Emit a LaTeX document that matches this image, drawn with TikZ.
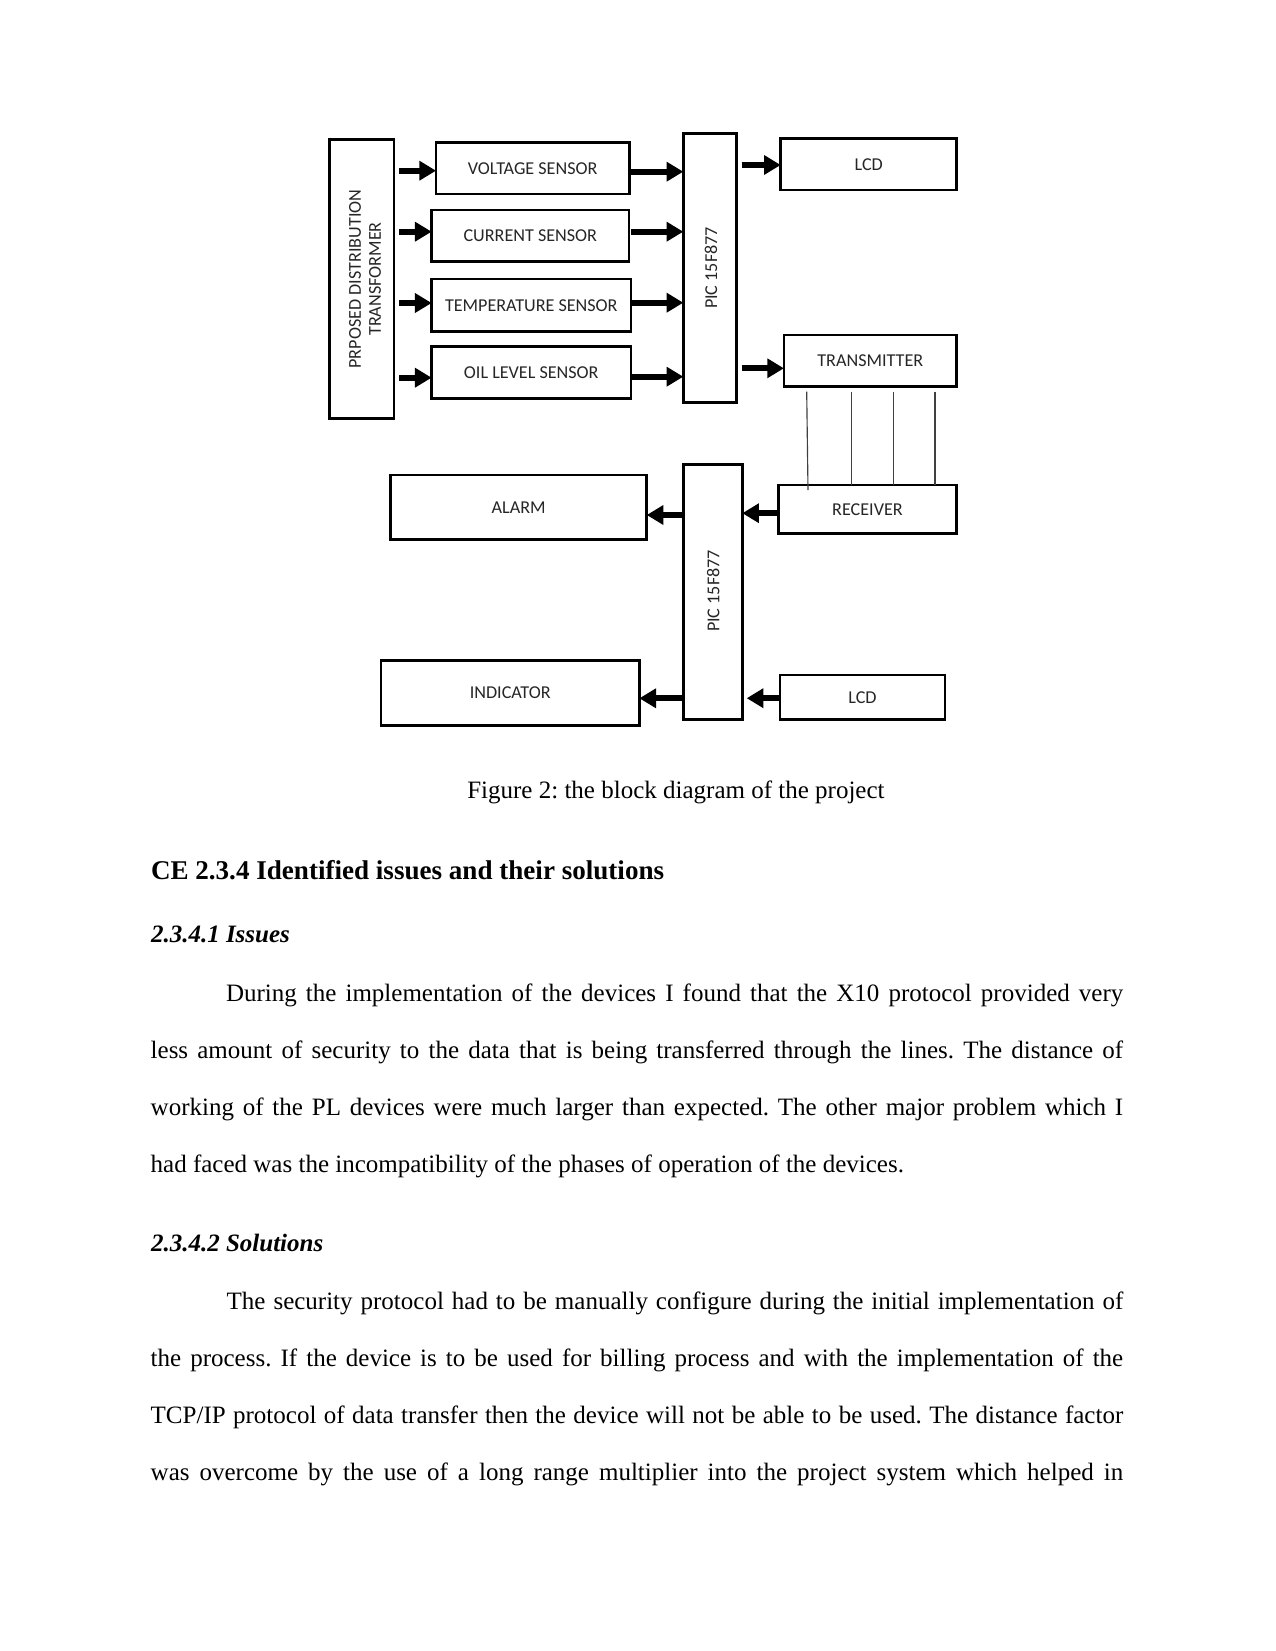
\documentclass[tikz,border=0pt]{standalone}
\usepackage{fontspec}
\setmainfont{Liberation Serif}
\newfontfamily\diagfont{Carlito}
\usetikzlibrary{arrows.meta,calc}
\newcommand\myjust[2]{\makebox[#1][s]{#2}}
\frenchspacing
\begin{document}
\begin{tikzpicture}[x=0.48pt,y=-0.48pt,
  blk/.style={draw, line width=1.3pt, inner sep=0pt, outer sep=0pt,
    font=\diagfont\fontsize{8.7}{9.6}\selectfont, text=black!85},
  lbl/.style={inner sep=0pt, outer sep=0pt, rotate=90, align=center,
    font=\diagfont\fontsize{8.7}{9.6}\selectfont, text=black!85},
  arr/.style={line width=2.8pt, -{Triangle[length=8pt,width=9pt]}},
  wire/.style={line width=0.55pt, draw=black!75},
  body/.style={anchor=base west, inner sep=0pt, outer sep=0pt,
    font=\fontsize{12}{14}\selectfont}]
\useasboundingbox[fill=white] (0,0) rectangle (1275,1651);

% ---------- upper part ----------
\node[blk, minimum width=64.7*0.48pt, minimum height=279*0.48pt] (T) at (361.7,278.8) {};
\node[lbl] (Tt) at (365,279) {PRPOSED DISTRIBUTION\\TRANSFORMER};

\node[blk, minimum width=193.3*0.48pt, minimum height=51.3*0.48pt] (V) at (532.7,168.3) {VOLTAGE SENSOR};
\node[blk, minimum width=197.3*0.48pt, minimum height=51.7*0.48pt] (C) at (530.3,235.8) {CURRENT SENSOR};
\node[blk, minimum width=199.3*0.48pt, minimum height=52.7*0.48pt] (Tm) at (531.3,305.3) {TEMPERATURE SENSOR};
\node[blk, minimum width=199.3*0.48pt, minimum height=51.6*0.48pt] (O) at (531.3,372.5) {OIL LEVEL SENSOR};

\node[blk, minimum width=53.4*0.48pt, minimum height=269.4*0.48pt] (P1) at (710,268) {};
\node[lbl] (P1t) at (711,268) {PIC 15F877};

\node[blk, minimum width=176*0.48pt, minimum height=51.7*0.48pt] (L1) at (868.7,164.2) {LCD};
\node[blk, minimum width=172.7*0.48pt, minimum height=51.7*0.48pt] (Tx) at (870.3,360.8) {TRANSMITTER};

% arrows transformer -> sensors
\draw[arr] ($(T.east |- V.west)+(5,2.4)$) -- ($(V.west)+(0,2.4)$);
\draw[arr] ($(T.east |- C.west)+(5,-4.1)$) -- ($(C.west)+(0,-4.1)$);
\draw[arr] ($(T.east |- Tm.west)+(5,-2.3)$) -- ($(Tm.west)+(0,-2.3)$);
\draw[arr] ($(T.east |- O.west)+(5,5.2)$) -- ($(O.west)+(0,5.2)$);
% sensors -> PIC
\draw[arr] ($(V.east)+(2,3.4)$) -- ($(P1.west |- V.east)+(0,3.4)$);
\draw[arr] ($(C.east)+(2,-4.1)$) -- ($(P1.west |- C.east)+(0,-4.1)$);
\draw[arr] ($(Tm.east)+(1,-2.6)$) -- ($(P1.west |- Tm.east)+(0,-2.6)$);
\draw[arr] ($(O.east)+(1,4.2)$) -- ($(P1.west |- O.east)+(0,4.2)$);
% PIC -> LCD, transmitter
\draw[arr] ($(P1.east |- L1.west)+(5,0.8)$) -- ($(L1.west)+(0,0.8)$);
\draw[arr] ($(P1.east |- Tx.west)+(5,7.5)$) -- ($(Tx.west)+(0,7.5)$);

% ---------- lower part ----------
\node[blk, minimum width=178.4*0.48pt, minimum height=48.3*0.48pt] (Rx) at (867.5,509.2) {RECEIVER};
\node[blk, minimum width=59*0.48pt, minimum height=255*0.48pt] (P2) at (712.8,591.8) {};
\node[lbl] (P2t) at (713.3,591) {PIC 15F877};
\node[blk, minimum width=256*0.48pt, minimum height=64.3*0.48pt] (A) at (518.7,507.2) {ALARM};
\node[blk, minimum width=258.3*0.48pt, minimum height=64.6*0.48pt] (I) at (510.2,693) {INDICATOR};
\node[blk, minimum width=165*0.48pt, minimum height=44.3*0.48pt] (L2) at (862.5,697.2) {LCD};

% wires transmitter -> receiver
\coordinate (w1) at (806.7,0);
\coordinate (w2) at (851.7,0);
\coordinate (w3) at (893.3,0);
\coordinate (w4) at (935,0);
\draw[wire] ($(Tx.south -| w1)+(0,5)$) -- ($(Rx.north -| w1)+(1.3,5)$);
\draw[wire] ($(Tx.south -| w2)+(0,5)$) -- (Rx.north -| w2);
\draw[wire] ($(Tx.south -| w3)+(0,5)$) -- (Rx.north -| w3);
\draw[wire] ($(Tx.south -| w4)+(0,5)$) -- (Rx.north -| w4);

% arrows lower
\draw[arr] ($(Rx.west)+(0,4)$) -- ($(P2.east |- Rx.west)+(0,4)$);
\draw[arr] ($(P2.west |- A.east)+(0,7.8)$) -- ($(A.east)+(0,7.8)$);
\draw[arr] ($(P2.west |- I.east)+(0,5.3)$) -- ($(I.east)+(0,5.3)$);
\draw[arr] ($(L2.west)+(0,1)$) -- ($(P2.east |- L2.west)+(4.4,1)$);

% ---------- text ----------
\node[body] (cap) at (467.3,798.3) {Figure 2: the block diagram of the project};
\node[body, font=\bfseries\fontsize{13}{15}\selectfont] (h1) at (151,879.3) {CE 2.3.4 Identified issues and their solutions};
\node[body, font=\bfseries\itshape\fontsize{12}{14}\selectfont] (h2) at (151,942.7) {2.3.4.1 Issues};
\node[body] (p1a) at (226,1001.7) {\myjust{430.7pt}{During the implementation of the devices I found that the X10 protocol provided very}};
\node[body] (p1b) at (150.7,1058.3) {\myjust{466.8pt}{less amount of security to the data that is being transferred through the lines. The distance of}};
\node[body] (p1c) at (150.7,1115.7) {\myjust{466.8pt}{working of the PL devices were much larger than expected. The other major problem which I}};
\node[body] (p1d) at (150.7,1172.7) {had faced was the incompatibility of the phases of operation of the devices.};
\node[body, font=\bfseries\itshape\fontsize{12}{14}\selectfont] (h3) at (151,1251.7) {2.3.4.2 Solutions};
\node[body] (p2a) at (226.7,1309.3) {\myjust{430.4pt}{The security protocol had to be manually configure during the initial implementation of}};
\node[body] (p2b) at (150.7,1366.7) {\myjust{466.8pt}{the process. If the device is to be used for billing process and with the implementation of the}};
\node[body] (p2c) at (150.7,1423.3) {\myjust{466.8pt}{TCP/IP protocol of data transfer then the device will not be able to be used. The distance factor}};
\node[body] (p2d) at (150.7,1480.6) {\myjust{466.8pt}{was overcome by the use of a long range multiplier into the project system which helped in}};
\end{tikzpicture}
\end{document}
